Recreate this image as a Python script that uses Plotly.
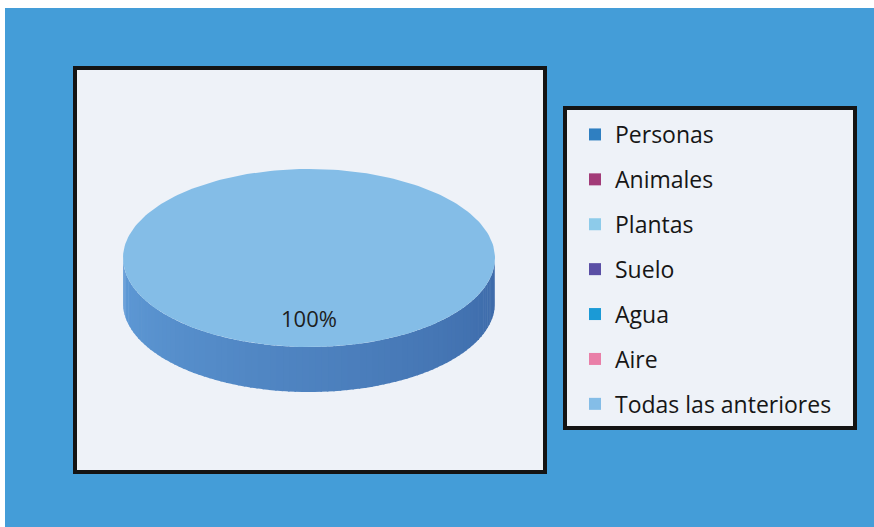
import numpy as np
import plotly.graph_objects as go

# ---- data ----
categories = ["Personas", "Animales", "Plantas", "Suelo", "Agua", "Aire", "Todas las anteriores"]
values = [0, 0, 0, 0, 0, 0, 100]
colors = ["#2f7fc1", "#a23b78", "#8dcbea", "#5a4fa5", "#1b9ad6", "#e97fa8", "#84bde7"]
side_light = "#5f9bd7"
side_dark = "#3c69a8"

W, H = 874, 527
# plot-area box (pixels)
PX0, PY0, PX1, PY1 = 75, 68, 545, 472
# ellipse geometry in plot-area units (1 unit = 1 px)
CX, CY, RX, RY, DEPTH = 234, 190, 186, 89, 45
FONT = "Open Sans, Lato, sans-serif"


def pt(theta, dy=0.0):
    # theta: degrees clockwise from 12 o'clock
    t = np.radians(theta)
    return CX + RX * np.sin(t), CY - RY * np.cos(t) + dy


def mix(c1, c2, f):
    a = [int(c1[i:i + 2], 16) for i in (1, 3, 5)]
    b = [int(c2[i:i + 2], 16) for i in (1, 3, 5)]
    c = [round(a[k] + (b[k] - a[k]) * f) for k in range(3)]
    return "#%02x%02x%02x" % tuple(c)


fig = go.Figure()

total = float(sum(values))
starts = []
acc = 0.0
for v in values:
    starts.append(acc / total * 360.0)
    acc += v

# side walls (front half: theta in 90..270)
for i, v in enumerate(values):
    if v <= 0:
        continue
    a0, a1 = starts[i], starts[i] + v / total * 360.0
    lo, hi = max(a0, 90.0), min(a1, 270.0)
    if hi <= lo:
        continue
    n = 90
    edges = np.linspace(lo, hi, n + 1)
    for k in range(n):
        th = np.linspace(edges[k], min(edges[k + 1] + 0.5, hi), 6)
        xs_top, ys_top = pt(th)
        xs_bot, ys_bot = pt(th[::-1], DEPTH)
        frac = ((edges[k] + edges[k + 1]) / 2 - 90.0) / 180.0
        col = mix(side_dark, side_light, frac)
        fig.add_trace(go.Scatter(
            x=np.concatenate([xs_top, xs_bot]), y=np.concatenate([ys_top, ys_bot]),
            fill="toself", fillcolor=col, mode="lines", line=dict(width=0),
            hoverinfo="skip", showlegend=False))

# top faces
for i, v in enumerate(values):
    if v <= 0:
        continue
    a0, a1 = starts[i], starts[i] + v / total * 360.0
    th = np.linspace(a0, a1, 241)
    xs, ys = pt(th)
    if v < total:
        xs = np.concatenate([[CX], xs, [CX]])
        ys = np.concatenate([[CY], ys, [CY]])
    fig.add_trace(go.Scatter(
        x=xs, y=ys, fill="toself", fillcolor=colors[i], mode="lines",
        line=dict(width=0, color=colors[i]), hoverinfo="skip", showlegend=False))
    # data label
    mid = (a0 + a1) / 2.0
    t = np.radians(mid)
    lx = CX + 0.72 * RX * np.sin(t)
    ly = CY - 0.72 * RY * np.cos(t) - 1
    fig.add_trace(go.Scatter(
        x=[lx], y=[ly], mode="text", text=["%d%%" % round(v / total * 100)],
        textfont=dict(family=FONT, size=22, color="#1e1e1e"),
        hoverinfo="skip", showlegend=False))

# legend entries
for name, col in zip(categories, colors):
    fig.add_trace(go.Scatter(
        x=[None], y=[None], mode="markers", name=name, legendgroup=name,
        marker=dict(symbol="square", size=12, color=col)))

fig.update_layout(
    width=W, height=H,
    margin=dict(l=0, r=0, t=0, b=0),
    paper_bgcolor="white",
    plot_bgcolor="#eef2f8",
    xaxis=dict(domain=[PX0 / W, PX1 / W], range=[0, PX1 - PX0], visible=False, fixedrange=True),
    yaxis=dict(domain=[1 - PY1 / H, 1 - PY0 / H], range=[PY1 - PY0, 0], visible=False, fixedrange=True),
    showlegend=True,
    legend=dict(
        x=575 / W, y=1 - 113 / H, xanchor="left", yanchor="top",
        bgcolor="rgba(0,0,0,0)", borderwidth=0,
        font=dict(family=FONT, size=23, color="#161616"),
        tracegroupgap=12, itemwidth=30,
    ),
    shapes=[
        # blue background
        dict(type="rect", xref="paper", yref="paper", x0=5 / W, x1=1, y0=0, y1=1 - 8 / H,
             fillcolor="#449dd8", line=dict(width=0), layer="below"),
        # plot area fill
        dict(type="rect", xref="paper", yref="paper", x0=PX0 / W, x1=PX1 / W,
             y0=1 - PY1 / H, y1=1 - PY0 / H, fillcolor="#eef2f8",
             line=dict(width=0), layer="below"),
        # plot area border
        dict(type="rect", xref="paper", yref="paper", x0=PX0 / W, x1=PX1 / W,
             y0=1 - PY1 / H, y1=1 - PY0 / H, line=dict(color="#141414", width=4), layer="above"),
        # legend box
        dict(type="rect", xref="paper", yref="paper", x0=565 / W, x1=855 / W,
             y0=1 - 428 / H, y1=1 - 108 / H, fillcolor="#eef2f8",
             line=dict(color="#141414", width=4), layer="below"),
    ],
)

fig.write_html("out.html", config={"displayModeBar": False},
               post_script="document.body.style.margin='0';document.body.style.padding='0';")
